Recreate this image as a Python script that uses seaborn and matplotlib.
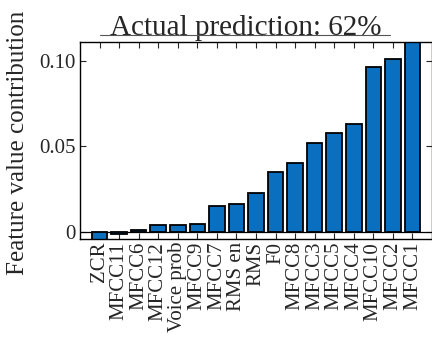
import matplotlib
matplotlib.use("Agg")
import matplotlib.pyplot as plt
from matplotlib.lines import Line2D
import seaborn as sns
import pandas as pd

features = ["ZCR", "MFCC11", "MFCC6", "MFCC12", "Voice prob", "MFCC9",
            "MFCC7", "RMS en", "RMS", "F0", "MFCC8", "MFCC3", "MFCC5",
            "MFCC4", "MFCC10", "MFCC2", "MFCC1"]
contribution = [-0.005, -0.001, 0.001, 0.004, 0.004, 0.0047,
                0.0153, 0.0165, 0.0227, 0.0352, 0.0404, 0.052, 0.0577,
                0.0632, 0.0964, 0.101, 0.115]
ytick_values = [0, 0.05, 0.10]
ytick_labels = ["0", "0.05", "0.10"]
title = "Actual prediction: 62%"

df = pd.DataFrame({"feature": features, "contribution": contribution})

sns.set_style("ticks")
plt.rcParams["font.family"] = ["Liberation Serif", "DejaVu Serif"]

fig = plt.figure(figsize=(4.32, 3.38), dpi=100)
ax = fig.add_axes([80 / 432, 1 - 239 / 338, 352 / 432, 197 / 338])

sns.barplot(data=df, x="feature", y="contribution", color="#0a6fbf",
            saturation=1, edgecolor="black", linewidth=1.3, width=0.8,
            ax=ax, zorder=2)

ax.axhline(0, color="black", linewidth=0.9, zorder=1)
ax.set_xlim(-1.0, 17.0)
ax.set_ylim(-0.0041, 0.1108)
ax.set_yticks(ytick_values)
ax.set_yticklabels(ytick_labels)
ax.set_xlabel("")
ax.set_ylabel("Feature value contribution", fontsize=18)
ax.yaxis.set_label_coords(-0.145, 0.49)

ax.tick_params(axis="both", direction="in", top=True, right=True,
               length=4, width=0.8, labelsize=15, pad=3)
ax.tick_params(axis="x", labelrotation=90, pad=2)
for lab in ax.get_xticklabels():
    lab.set_verticalalignment("top")

for s in ax.spines.values():
    s.set_linewidth(1.0)
    s.set_color("black")

ax.set_title(title, fontsize=21, x=(246 - 80) / 352, pad=5)
fig.add_artist(Line2D([100 / 432, 390 / 432], [1 - 35 / 338, 1 - 35 / 338],
                      color="#555555", linewidth=0.8))

fig.savefig("out.png", dpi=100)
